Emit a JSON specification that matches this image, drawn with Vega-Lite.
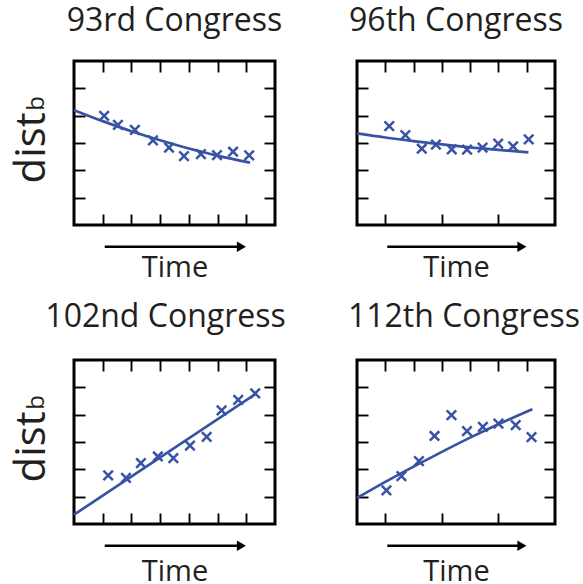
{
  "$schema": "https://vega.github.io/schema/vega-lite/v6.json",
  "background": "white",
  "padding": {"left": 8, "top": 3, "right": 0, "bottom": 0},
  "datasets": {
    "pts": [
      {"c": "93rd Congress", "t": 1.05, "d": 3.99},
      {"c": "93rd Congress", "t": 1.53, "d": 3.66},
      {"c": "93rd Congress", "t": 2.12, "d": 3.48},
      {"c": "93rd Congress", "t": 2.75, "d": 3.10},
      {"c": "93rd Congress", "t": 3.31, "d": 2.83},
      {"c": "93rd Congress", "t": 3.83, "d": 2.52},
      {"c": "93rd Congress", "t": 4.42, "d": 2.59},
      {"c": "93rd Congress", "t": 4.98, "d": 2.56},
      {"c": "93rd Congress", "t": 5.54, "d": 2.68},
      {"c": "93rd Congress", "t": 6.10, "d": 2.55},
      {"c": "96th Congress", "t": 1.14, "d": 3.62},
      {"c": "96th Congress", "t": 1.71, "d": 3.29},
      {"c": "96th Congress", "t": 2.29, "d": 2.79},
      {"c": "96th Congress", "t": 2.79, "d": 2.94},
      {"c": "96th Congress", "t": 3.35, "d": 2.77},
      {"c": "96th Congress", "t": 3.89, "d": 2.76},
      {"c": "96th Congress", "t": 4.44, "d": 2.83},
      {"c": "96th Congress", "t": 4.99, "d": 2.98},
      {"c": "96th Congress", "t": 5.52, "d": 2.88},
      {"c": "96th Congress", "t": 6.07, "d": 3.13},
      {"c": "102nd Congress", "t": 1.19, "d": 1.78},
      {"c": "102nd Congress", "t": 1.81, "d": 1.69},
      {"c": "102nd Congress", "t": 2.33, "d": 2.23},
      {"c": "102nd Congress", "t": 2.92, "d": 2.47},
      {"c": "102nd Congress", "t": 3.46, "d": 2.41},
      {"c": "102nd Congress", "t": 4.04, "d": 2.87},
      {"c": "102nd Congress", "t": 4.62, "d": 3.19},
      {"c": "102nd Congress", "t": 5.14, "d": 4.16},
      {"c": "102nd Congress", "t": 5.72, "d": 4.54},
      {"c": "102nd Congress", "t": 6.31, "d": 4.78},
      {"c": "112th Congress", "t": 1.04, "d": 1.23},
      {"c": "112th Congress", "t": 1.57, "d": 1.75},
      {"c": "112th Congress", "t": 2.19, "d": 2.30},
      {"c": "112th Congress", "t": 2.74, "d": 3.22},
      {"c": "112th Congress", "t": 3.34, "d": 3.98},
      {"c": "112th Congress", "t": 3.89, "d": 3.40},
      {"c": "112th Congress", "t": 4.45, "d": 3.55},
      {"c": "112th Congress", "t": 5.00, "d": 3.67},
      {"c": "112th Congress", "t": 5.61, "d": 3.62},
      {"c": "112th Congress", "t": 6.17, "d": 3.18}
    ],
    "fit": [
      {"c": "93rd Congress", "t": 0, "d": 4.20},
      {"c": "93rd Congress", "t": 1, "d": 3.80},
      {"c": "93rd Congress", "t": 2, "d": 3.43},
      {"c": "93rd Congress", "t": 3, "d": 3.10},
      {"c": "93rd Congress", "t": 4, "d": 2.80},
      {"c": "93rd Congress", "t": 5, "d": 2.54},
      {"c": "93rd Congress", "t": 6.13, "d": 2.28},
      {"c": "96th Congress", "t": 0, "d": 3.35},
      {"c": "96th Congress", "t": 1, "d": 3.20},
      {"c": "96th Congress", "t": 2, "d": 3.07},
      {"c": "96th Congress", "t": 3, "d": 2.95},
      {"c": "96th Congress", "t": 4, "d": 2.84},
      {"c": "96th Congress", "t": 5, "d": 2.75},
      {"c": "96th Congress", "t": 6.06, "d": 2.66},
      {"c": "102nd Congress", "t": 0, "d": 0.34},
      {"c": "102nd Congress", "t": 6.33, "d": 4.76},
      {"c": "112th Congress", "t": 0, "d": 0.95},
      {"c": "112th Congress", "t": 1, "d": 1.54},
      {"c": "112th Congress", "t": 2, "d": 2.10},
      {"c": "112th Congress", "t": 3, "d": 2.64},
      {"c": "112th Congress", "t": 4, "d": 3.16},
      {"c": "112th Congress", "t": 5, "d": 3.65},
      {"c": "112th Congress", "t": 6.2, "d": 4.20}
    ]
  },
  "columns": 2,
  "bounds": "flush",
  "spacing": {"row": 135, "column": 82},
  "concat": [
    {
      "width": 201, "height": 164,
      "title": {"text": "93rd Congress", "fontSize": 32, "font": "Open Sans", "fontWeight": "normal", "color": "#231f20", "baseline": "alphabetic", "offset": -3, "anchor": "middle"},
      "layer": [
        {"layer": [
          {"data": {"name": "fit"}, "transform": [{"filter": {"field": "c", "equal": "93rd Congress"}}],
           "mark": {"type": "line", "color": "#3953a4", "strokeWidth": 2.7, "interpolate": "monotone"},
           "encoding": {
             "x": {"field": "t", "type": "quantitative", "scale": {"domain": [0, 7], "nice": false},
                   "axis": {"values": [1, 2, 3, 4, 5, 6], "labels": false, "domain": false, "grid": false, "tickSize": -11, "tickWidth": 1.9, "tickColor": "black", "title": "Time", "titleFontSize": 29, "titleFont": "Open Sans", "titleFontWeight": "normal", "titleColor": "#231f20", "titleBaseline": "alphabetic", "titlePadding": 51}},
             "y": {"field": "d", "type": "quantitative", "scale": {"domain": [0, 6], "nice": false},
                   "axis": {"values": [1, 2, 3, 4, 5], "labels": false, "domain": false, "grid": false, "tickSize": -11, "tickWidth": 1.9, "tickColor": "black", "title": "dist", "titleFontSize": 42, "titleFont": "Open Sans", "titleFontWeight": "normal", "titleColor": "#231f20", "titleAngle": 270, "titleAlign": "left", "titleBaseline": "alphabetic", "titleX": -30, "titleY": 122}}
           }},
          {"data": {"name": "pts"}, "transform": [{"filter": {"field": "c", "equal": "93rd Congress"}}],
           "mark": {"type": "point", "shape": "M-1,-1L1,1M-1,1L1,-1", "filled": false, "color": "#3953a4", "strokeWidth": 2.5, "size": 90, "opacity": 1},
           "encoding": {"x": {"field": "t", "type": "quantitative"}, "y": {"field": "d", "type": "quantitative"}}},
          {"data": {"values": [{}]}, "mark": {"type": "rule", "color": "black", "strokeWidth": 2.5},
           "encoding": {"x": {"datum": 1.07, "type": "quantitative"}, "x2": {"datum": 5.8}, "y": {"datum": -0.8, "type": "quantitative"}}},
          {"data": {"values": [{}]}, "mark": {"type": "point", "shape": "triangle-right", "filled": true, "color": "black", "size": 110, "opacity": 1},
           "encoding": {"x": {"datum": 5.83, "type": "quantitative"}, "y": {"datum": -0.8, "type": "quantitative"}}},
          {"data": {"values": [{}]}, "mark": {"type": "text", "text": "b", "angle": 270, "align": "left", "baseline": "alphabetic", "fontSize": 24, "font": "Open Sans", "color": "#231f20"},
           "encoding": {"x": {"datum": -1.045, "type": "quantitative"}, "y": {"datum": 4.18, "type": "quantitative"}}}
        ]},
        {"data": {"values": [{}]}, "mark": {"type": "point", "opacity": 0},
         "encoding": {
           "x": {"datum": 0, "type": "quantitative", "scale": {"domain": [0, 7], "nice": false}, "axis": {"orient": "top", "values": [1, 2, 3, 4, 5, 6], "labels": false, "domain": false, "grid": false, "tickSize": -11, "tickWidth": 1.9, "tickColor": "black", "title": null}},
           "y": {"datum": 0, "type": "quantitative", "scale": {"domain": [0, 6], "nice": false}, "axis": {"orient": "right", "values": [1, 2, 3, 4, 5], "labels": false, "domain": false, "grid": false, "tickSize": -11, "tickWidth": 1.9, "tickColor": "black", "title": null}}
         }}
      ],
      "resolve": {"scale": {"x": "independent", "y": "independent"}}
    },
    {
      "width": 198, "height": 164,
      "title": {"text": "96th Congress", "fontSize": 32, "font": "Open Sans", "fontWeight": "normal", "color": "#231f20", "baseline": "alphabetic", "offset": -3, "anchor": "middle"},
      "layer": [
        {"layer": [
          {"data": {"name": "fit"}, "transform": [{"filter": {"field": "c", "equal": "96th Congress"}}],
           "mark": {"type": "line", "color": "#3953a4", "strokeWidth": 2.7, "interpolate": "monotone"},
           "encoding": {
             "x": {"field": "t", "type": "quantitative", "scale": {"domain": [0, 7], "nice": false},
                   "axis": {"values": [1, 2, 3, 4, 5, 6], "labels": false, "domain": false, "grid": false, "tickSize": -11, "tickWidth": 1.9, "tickColor": "black", "title": "Time", "titleFontSize": 29, "titleFont": "Open Sans", "titleFontWeight": "normal", "titleColor": "#231f20", "titleBaseline": "alphabetic", "titlePadding": 51}},
             "y": {"field": "d", "type": "quantitative", "scale": {"domain": [0, 6], "nice": false},
                   "axis": {"values": [1, 2, 3, 4, 5], "labels": false, "domain": false, "grid": false, "tickSize": -11, "tickWidth": 1.9, "tickColor": "black", "title": null}}
           }},
          {"data": {"name": "pts"}, "transform": [{"filter": {"field": "c", "equal": "96th Congress"}}],
           "mark": {"type": "point", "shape": "M-1,-1L1,1M-1,1L1,-1", "filled": false, "color": "#3953a4", "strokeWidth": 2.5, "size": 90, "opacity": 1},
           "encoding": {"x": {"field": "t", "type": "quantitative"}, "y": {"field": "d", "type": "quantitative"}}},
          {"data": {"values": [{}]}, "mark": {"type": "rule", "color": "black", "strokeWidth": 2.5},
           "encoding": {"x": {"datum": 1.07, "type": "quantitative"}, "x2": {"datum": 5.8}, "y": {"datum": -0.8, "type": "quantitative"}}},
          {"data": {"values": [{}]}, "mark": {"type": "point", "shape": "triangle-right", "filled": true, "color": "black", "size": 110, "opacity": 1},
           "encoding": {"x": {"datum": 5.83, "type": "quantitative"}, "y": {"datum": -0.8, "type": "quantitative"}}}
        ]},
        {"data": {"values": [{}]}, "mark": {"type": "point", "opacity": 0},
         "encoding": {
           "x": {"datum": 0, "type": "quantitative", "scale": {"domain": [0, 7], "nice": false}, "axis": {"orient": "top", "values": [1, 2, 3, 4, 5, 6], "labels": false, "domain": false, "grid": false, "tickSize": -11, "tickWidth": 1.9, "tickColor": "black", "title": null}},
           "y": {"datum": 0, "type": "quantitative", "scale": {"domain": [0, 6], "nice": false}, "axis": {"orient": "right", "values": [1, 2, 3, 4, 5], "labels": false, "domain": false, "grid": false, "tickSize": -11, "tickWidth": 1.9, "tickColor": "black", "title": null}}
         }}
      ],
      "resolve": {"scale": {"x": "independent", "y": "independent"}}
    },
    {
      "width": 201, "height": 164,
      "title": {"text": "102nd Congress", "fontSize": 32, "font": "Open Sans", "fontWeight": "normal", "color": "#231f20", "baseline": "alphabetic", "offset": 0, "anchor": "middle", "dx": -9},
      "layer": [
        {"layer": [
          {"data": {"name": "fit"}, "transform": [{"filter": {"field": "c", "equal": "102nd Congress"}}],
           "mark": {"type": "line", "color": "#3953a4", "strokeWidth": 2.7},
           "encoding": {
             "x": {"field": "t", "type": "quantitative", "scale": {"domain": [0, 7], "nice": false},
                   "axis": {"values": [1, 2, 3, 4, 5, 6], "labels": false, "domain": false, "grid": false, "tickSize": -11, "tickWidth": 1.9, "tickColor": "black", "title": "Time", "titleFontSize": 29, "titleFont": "Open Sans", "titleFontWeight": "normal", "titleColor": "#231f20", "titleBaseline": "alphabetic", "titlePadding": 56}},
             "y": {"field": "d", "type": "quantitative", "scale": {"domain": [0, 6], "nice": false},
                   "axis": {"values": [1, 2, 3, 4, 5], "labels": false, "domain": false, "grid": false, "tickSize": -11, "tickWidth": 1.9, "tickColor": "black", "title": "dist", "titleFontSize": 42, "titleFont": "Open Sans", "titleFontWeight": "normal", "titleColor": "#231f20", "titleAngle": 270, "titleAlign": "left", "titleBaseline": "alphabetic", "titleX": -30, "titleY": 122}}
           }},
          {"data": {"name": "pts"}, "transform": [{"filter": {"field": "c", "equal": "102nd Congress"}}],
           "mark": {"type": "point", "shape": "M-1,-1L1,1M-1,1L1,-1", "filled": false, "color": "#3953a4", "strokeWidth": 2.5, "size": 90, "opacity": 1},
           "encoding": {"x": {"field": "t", "type": "quantitative"}, "y": {"field": "d", "type": "quantitative"}}},
          {"data": {"values": [{}]}, "mark": {"type": "rule", "color": "black", "strokeWidth": 2.5},
           "encoding": {"x": {"datum": 1.07, "type": "quantitative"}, "x2": {"datum": 5.8}, "y": {"datum": -0.8, "type": "quantitative"}}},
          {"data": {"values": [{}]}, "mark": {"type": "point", "shape": "triangle-right", "filled": true, "color": "black", "size": 110, "opacity": 1},
           "encoding": {"x": {"datum": 5.83, "type": "quantitative"}, "y": {"datum": -0.8, "type": "quantitative"}}},
          {"data": {"values": [{}]}, "mark": {"type": "text", "text": "b", "angle": 270, "align": "left", "baseline": "alphabetic", "fontSize": 24, "font": "Open Sans", "color": "#231f20"},
           "encoding": {"x": {"datum": -1.045, "type": "quantitative"}, "y": {"datum": 4.18, "type": "quantitative"}}}
        ]},
        {"data": {"values": [{}]}, "mark": {"type": "point", "opacity": 0},
         "encoding": {
           "x": {"datum": 0, "type": "quantitative", "scale": {"domain": [0, 7], "nice": false}, "axis": {"orient": "top", "values": [1, 2, 3, 4, 5, 6], "labels": false, "domain": false, "grid": false, "tickSize": -11, "tickWidth": 1.9, "tickColor": "black", "title": null}},
           "y": {"datum": 0, "type": "quantitative", "scale": {"domain": [0, 6], "nice": false}, "axis": {"orient": "right", "values": [1, 2, 3, 4, 5], "labels": false, "domain": false, "grid": false, "tickSize": -11, "tickWidth": 1.9, "tickColor": "black", "title": null}}
         }}
      ],
      "resolve": {"scale": {"x": "independent", "y": "independent"}}
    },
    {
      "width": 198, "height": 164,
      "title": {"text": "112th Congress", "fontSize": 32, "font": "Open Sans", "fontWeight": "normal", "color": "#231f20", "baseline": "alphabetic", "offset": 0, "anchor": "middle", "dx": 8},
      "layer": [
        {"layer": [
          {"data": {"name": "fit"}, "transform": [{"filter": {"field": "c", "equal": "112th Congress"}}],
           "mark": {"type": "line", "color": "#3953a4", "strokeWidth": 2.7, "interpolate": "monotone"},
           "encoding": {
             "x": {"field": "t", "type": "quantitative", "scale": {"domain": [0, 7], "nice": false},
                   "axis": {"values": [1, 2, 3, 4, 5, 6], "labels": false, "domain": false, "grid": false, "tickSize": -11, "tickWidth": 1.9, "tickColor": "black", "title": "Time", "titleFontSize": 29, "titleFont": "Open Sans", "titleFontWeight": "normal", "titleColor": "#231f20", "titleBaseline": "alphabetic", "titlePadding": 56}},
             "y": {"field": "d", "type": "quantitative", "scale": {"domain": [0, 6], "nice": false},
                   "axis": {"values": [1, 2, 3, 4, 5], "labels": false, "domain": false, "grid": false, "tickSize": -11, "tickWidth": 1.9, "tickColor": "black", "title": null}}
           }},
          {"data": {"name": "pts"}, "transform": [{"filter": {"field": "c", "equal": "112th Congress"}}],
           "mark": {"type": "point", "shape": "M-1,-1L1,1M-1,1L1,-1", "filled": false, "color": "#3953a4", "strokeWidth": 2.5, "size": 90, "opacity": 1},
           "encoding": {"x": {"field": "t", "type": "quantitative"}, "y": {"field": "d", "type": "quantitative"}}},
          {"data": {"values": [{}]}, "mark": {"type": "rule", "color": "black", "strokeWidth": 2.5},
           "encoding": {"x": {"datum": 1.07, "type": "quantitative"}, "x2": {"datum": 5.8}, "y": {"datum": -0.8, "type": "quantitative"}}},
          {"data": {"values": [{}]}, "mark": {"type": "point", "shape": "triangle-right", "filled": true, "color": "black", "size": 110, "opacity": 1},
           "encoding": {"x": {"datum": 5.83, "type": "quantitative"}, "y": {"datum": -0.8, "type": "quantitative"}}}
        ]},
        {"data": {"values": [{}]}, "mark": {"type": "point", "opacity": 0},
         "encoding": {
           "x": {"datum": 0, "type": "quantitative", "scale": {"domain": [0, 7], "nice": false}, "axis": {"orient": "top", "values": [1, 2, 3, 4, 5, 6], "labels": false, "domain": false, "grid": false, "tickSize": -11, "tickWidth": 1.9, "tickColor": "black", "title": null}},
           "y": {"datum": 0, "type": "quantitative", "scale": {"domain": [0, 6], "nice": false}, "axis": {"orient": "right", "values": [1, 2, 3, 4, 5], "labels": false, "domain": false, "grid": false, "tickSize": -11, "tickWidth": 1.9, "tickColor": "black", "title": null}}
         }}
      ],
      "resolve": {"scale": {"x": "independent", "y": "independent"}}
    }
  ],
  "config": {
    "font": "Open Sans",
    "view": {"stroke": "black", "strokeWidth": 3}
  }
}
